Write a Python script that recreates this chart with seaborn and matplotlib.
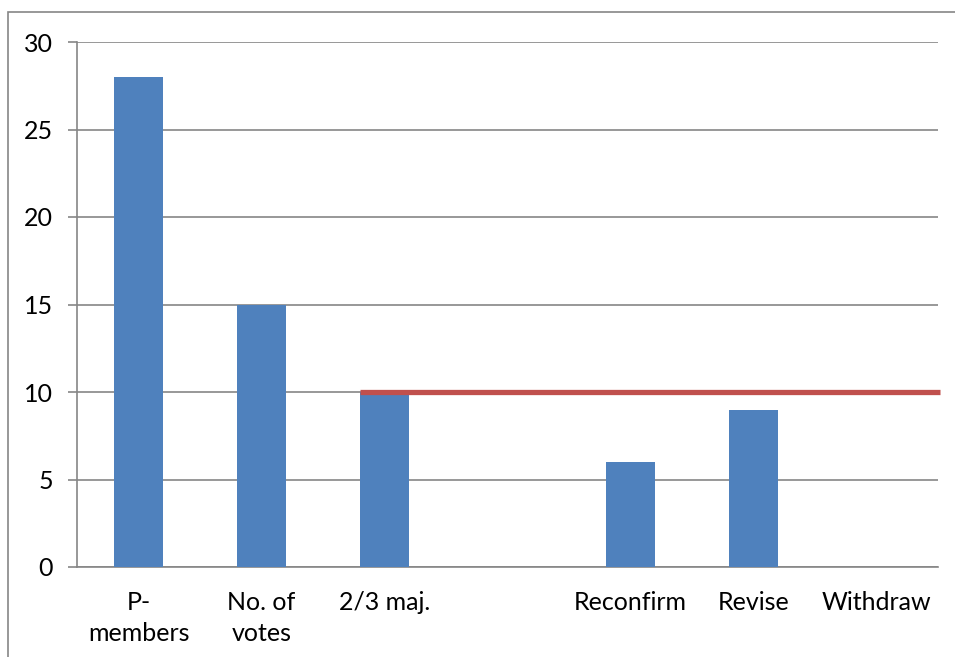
import matplotlib
matplotlib.use("Agg")
import matplotlib.pyplot as plt
import matplotlib.patches as mpatches
import numpy as np
import seaborn as sns

categories = ["P-\nmembers", "No. of\nvotes", "2/3 maj.", " ", "Reconfirm", "Revise", "Withdraw"]
values = [28, 15, 10, 0, 6, 9, 0]
threshold = 10
threshold_start = "2/3 maj."
y_ticks = [0, 5, 10, 15, 20, 25, 30]

bar_color = "#4F81BD"
line_color = "#C0504D"
grid_color = "#868686"

sns.set_theme(style="white")
plt.rcParams["font.family"] = ["Lato", "DejaVu Sans"]

fig = plt.figure(figsize=(9.55, 6.57), dpi=100)
ax = fig.add_axes([77 / 955, 1 - 567 / 657, (938 - 77) / 955, (567 - 42) / 657])

# outer chart frame (cut off at right and bottom like the source)
fig.patches.append(mpatches.Rectangle((8 / 955, -0.1), 1.2, 1.1 - 12 / 657,
                                      transform=fig.transFigure, fill=False,
                                      edgecolor=grid_color, linewidth=1.2))

sns.barplot(x=categories, y=values, color=bar_color, saturation=1, width=0.4,
            linewidth=0, ax=ax, zorder=3)

bar_w = 0.4
x0 = categories.index(threshold_start) - bar_w / 2
ax.hlines(threshold, x0, len(categories) - 0.48, color=line_color, linewidth=3.8, zorder=4, clip_on=False)

ax.set_xlim(-0.5, len(categories) - 0.5)
ax.set_ylim(0, 30)
ax.set_yticks(y_ticks)
ax.yaxis.grid(True, color=grid_color, linewidth=1.2, zorder=0)
ax.set_axisbelow(True)

for side in ["top", "right"]:
    ax.spines[side].set_visible(False)
for side in ["left", "bottom"]:
    ax.spines[side].set_color(grid_color)
    ax.spines[side].set_linewidth(1.2)

ax.set_xticks(np.arange(-0.5, len(categories)), minor=True)
ax.tick_params(axis="x", which="major", length=0, pad=17, labelsize=18, labelcolor="black")
ax.tick_params(axis="x", which="minor", length=6, width=1.2, color=grid_color, direction="out")
ax.tick_params(axis="y", length=6.5, width=1.2, color=grid_color, direction="out", pad=11,
               labelsize=18, labelcolor="black", left=True)
for lbl in ax.get_xticklabels():
    lbl.set_linespacing(1.45)
ax.set_xlabel("")
ax.set_ylabel("")

fig.savefig("out.png", dpi=100)
